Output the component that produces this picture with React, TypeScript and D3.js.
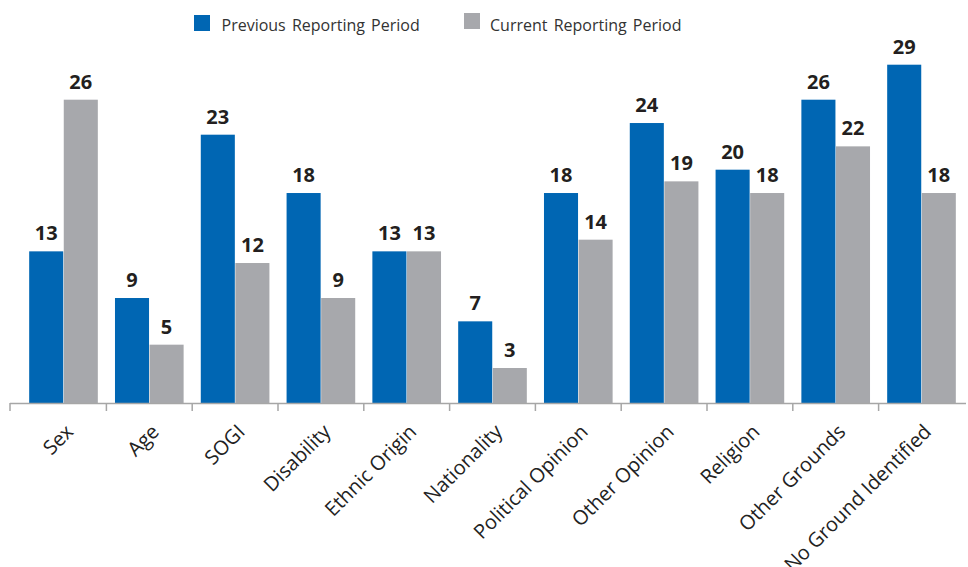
import React from "react";
import * as d3 from "d3";

const categories = [
  "Sex",
  "Age",
  "SOGI",
  "Disability",
  "Ethnic Origin",
  "Nationality",
  "Political Opinion",
  "Other Opinion",
  "Religion",
  "Other Grounds",
  "No Ground Identified",
];
const previousPeriod = [13, 9, 23, 18, 13, 7, 18, 24, 20, 26, 29];
const currentPeriod = [26, 5, 12, 9, 13, 3, 14, 19, 18, 22, 18];
const seriesNames = ["Previous Reporting Period", "Current Reporting Period"];
const seriesColors = ["#0066b3", "#a7a8ac"];

const W = 968;
const H = 567;
const FONT = "'Open Sans', 'Noto Sans', sans-serif";

export default function App() {
  const x0 = d3
    .scaleBand<string>()
    .domain(categories)
    .range([20.6, 964.4])
    .paddingInner(0.2)
    .paddingOuter(0.1);
  const x1 = d3
    .scaleBand<string>()
    .domain(seriesNames)
    .range([0, x0.bandwidth()])
    .paddingInner(0.015);
  const y = d3.scaleLinear().domain([0, 29]).range([403, 64.7]);
  const series = [previousPeriod, currentPeriod];
  const step = x0.step();
  const tickXs = [10, ...categories.slice(1).map((c) => (x0(c) as number) - (step - x0.bandwidth()) / 2)];

  return (
    <div style={{ position: "absolute", left: 0, top: 0 }}>
      <svg width={W} height={H} style={{ display: "block" }}>
        <rect x={0} y={0} width={W} height={H} fill="#ffffff" />
        {/* legend */}
        <g fontFamily={FONT} fontSize={16} fill="#333333">
          <rect x={194} y={15} width={16} height={16} fill={seriesColors[0]} />
          <text x={221.5} y={30.5} style={{ wordSpacing: "2px" }}>{seriesNames[0]}</text>
          <rect x={464} y={13} width={16} height={16} fill={seriesColors[1]} />
          <text x={490} y={30.5} style={{ wordSpacing: "2px" }}>{seriesNames[1]}</text>
        </g>
        {/* bars */}
        {categories.map((c, i) => (
          <g key={c} transform={`translate(${x0(c)},0)`}>
            {series.map((s, j) => {
              const bx = x1(seriesNames[j]) as number;
              const v = s[i];
              return (
                <g key={j}>
                  <rect x={bx} y={y(v)} width={x1.bandwidth()} height={y(0) - y(v)} fill={seriesColors[j]} />
                  <text
                    x={bx + x1.bandwidth() / 2}
                    y={y(v) - 11}
                    textAnchor="middle"
                    fontFamily={FONT}
                    fontWeight={700}
                    fontSize={20}
                    fill="#231f20"
                  >
                    {v}
                  </text>
                </g>
              );
            })}
          </g>
        ))}
        {/* axis */}
        <line x1={10} x2={966} y1={403.5} y2={403.5} stroke="#a6a6a6" strokeWidth={1.5} />
        {tickXs.map((tx, i) => (
          <line key={i} x1={tx} x2={tx} y1={403} y2={411} stroke="#a6a6a6" strokeWidth={1.5} />
        ))}
        {categories.map((c) => {
          const cx = (x0(c) as number) + x0.bandwidth() / 2 + 11;
          return (
            <text
              key={c}
              transform={`translate(${cx},433) rotate(-45)`}
              textAnchor="end"
              fontFamily={FONT}
              fontSize={20}
              fill="#222222"
            >
              {c}
            </text>
          );
        })}
      </svg>
    </div>
  );
}
